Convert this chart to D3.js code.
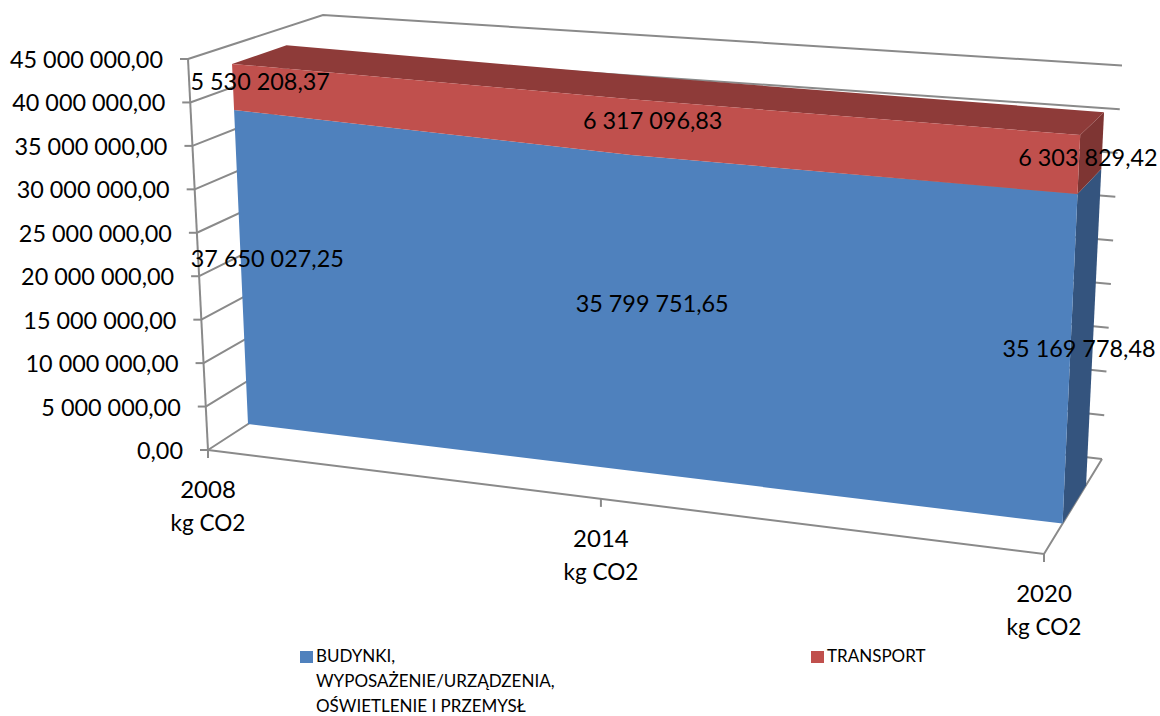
<!DOCTYPE html>
<html lang="pl"><head><meta charset="utf-8">
<script src="https://cdn.jsdelivr.net/npm/d3@7/dist/d3.min.js"></script>
<style>html,body{margin:0;padding:0;background:#fff}svg{display:block}text{font-family:Lato,"Open Sans",sans-serif;fill:#000}</style>
</head><body><svg id="c" width="1160" height="716"></svg>
<script>
const years = ["2008","2014","2020"];
const unit = "kg CO2";
const buildings = [37650027.25, 35799751.65, 35169778.48];
const transport = [5530208.37, 6317096.83, 6303829.42];
const buildingLabels = ["37 650 027,25","35 799 751,65","35 169 778,48"];
const transportLabels = ["5 530 208,37","6 317 096,83","6 303 829,42"];
const tickLabels = ["0,00","5 000 000,00","10 000 000,00","15 000 000,00","20 000 000,00","25 000 000,00","30 000 000,00","35 000 000,00","40 000 000,00","45 000 000,00"];
const legendBuildings = ["BUDYNKI,","WYPOSAŻENIE/URZĄDZENIA,","OŚWIETLENIE I PRZEMYSŁ"];
const legendTransport = ["TRANSPORT"];

// scales into the unit cube of the 3D plot
const xS = d3.scaleLinear().domain([0,1,2]).range([0,0.47,1]);
const yS = d3.scaleLinear().domain([0,45e6]).range([0,1]);
const yArea = d3.scaleLinear().domain([0,45e6]).range([0,0.99]);
const front = 0.32, back = 0.725;

// screen corners of the cube: [u][v][w]
const C = {
  "000":[208,450],"100":[1044,554],"001":[333,369],"101":[1102,459],
  "010":[188,59],"110":[1063,114.5],"011":[323,15],"111":[1122,65.5]
};
const CA = Object.assign({}, C, {"111":[1122,62]});
const L = d3.interpolateNumber;
function project(T,u,v,w){
  const f = k => {
    const c = s => T[s][k];
    const a = L(L(c("000"),c("100"))(u), L(c("010"),c("110"))(u))(v);
    const b = L(L(c("001"),c("101"))(u), L(c("011"),c("111"))(u))(v);
    return L(a,b)(w);
  };
  return [f(0),f(1)];
}
const P = (u,v,w) => project(C,u,v,w);
const A = (u,v,w) => project(CA,u,v,w);
const svg = d3.select("#c");
const line = d3.line();
const GRID = "#8a8a8a";
function fit(sel,ratio){
  const n = sel.node();
  sel.attr("textLength", n.getComputedTextLength()*ratio).attr("lengthAdjust","spacingAndGlyphs");
  return sel;
}

// gridlines on left and back walls
const g = svg.append("g").attr("fill","none").attr("stroke",GRID).attr("stroke-width",2);
yS.ticks(9).forEach(t=>{
  const v = yS(t);
  g.append("path").attr("d", line([P(0,v,0),P(0,v,1),P(1,v,1)]));
});
// floor + axes
g.append("path").attr("d", line([P(0,0,0),P(1,0,0),P(1,0,1)]));
g.append("path").attr("d", line([P(0,0,0),P(0,1,0)]));
yS.ticks(9).forEach(t=>{
  const p = P(0,yS(t),0);
  g.append("path").attr("d", line([[p[0]-8,p[1]],p]));
});
years.forEach((y,i)=>{
  const p = P(xS(i),0,0);
  g.append("path").attr("d", line([p,[p[0],p[1]+8]]));
});

// stacked surface
const idx = d3.range(years.length);
const top1 = i => buildings[i];
const top2 = i => buildings[i]+transport[i];
const poly = pts => line(pts)+"Z";
const last = idx[idx.length-1];
const s = svg.append("g").attr("stroke","none");
// right side faces
s.append("path").attr("fill","#34547e").attr("d", poly([A(1,0,front),A(1,0,back),A(1,yArea(top1(last)),back),A(1,yArea(top1(last)),front)]));
s.append("path").attr("fill","#7e3533").attr("d", poly([A(1,yArea(top1(last)),front),A(1,yArea(top1(last)),back),A(1,yArea(top2(last)),back),A(1,yArea(top2(last)),front)]));
// top face
s.append("path").attr("fill","#8e3b39").attr("d", poly([
  ...idx.map(i=>A(xS(i),yArea(top2(i)),front)),
  ...idx.slice().reverse().map(i=>A(xS(i),yArea(top2(i)),back))]));
// front faces
s.append("path").attr("fill","#4f81bd").attr("d", poly([
  ...idx.map(i=>A(xS(i),0,front)),
  ...idx.slice().reverse().map(i=>A(xS(i),yArea(top1(i)),front))]));
s.append("path").attr("fill","#c0504d").attr("d", poly([
  ...idx.map(i=>A(xS(i),yArea(top1(i)),front)),
  ...idx.slice().reverse().map(i=>A(xS(i),yArea(top2(i)),front))]));

// value axis labels
const FS = 24;
yS.ticks(9).forEach((t,i)=>{
  const p = P(0,yS(t),0);
  fit(svg.append("text").attr("x",p[0]-25).attr("y",p[1]+9).attr("text-anchor","end")
    .attr("font-size",FS).text(tickLabels[i]),0.975);
});
// data labels
idx.forEach(i=>{
  const dx = i===last ? -1.5 : (i===0 ? 3 : 4);
  const a = A(xS(i),yArea(top1(i)/2),0.5);
  fit(svg.append("text").attr("x",a[0]+dx).attr("y",a[1]+3+9).attr("text-anchor","middle").attr("font-size",FS).text(buildingLabels[i]),0.975);
  const b = A(xS(i),yArea(top1(i)+transport[i]/2),0.5);
  fit(svg.append("text").attr("x",b[0]+dx).attr("y",b[1]+3+9).attr("text-anchor","middle").attr("font-size",FS).text(transportLabels[i]),0.975);
});
// category labels
years.forEach((y,i)=>{
  const p = P(xS(i),0,0);
  svg.append("text").attr("text-anchor","middle").attr("font-size",FS).attr("x",p[0]).attr("y",p[1]+48).text(y);
  fit(svg.append("text").attr("text-anchor","middle").attr("font-size",FS).attr("x",p[0]).attr("y",p[1]+81).text(unit),0.94);
});
// legend
function legend(x,color,lines){
  svg.append("rect").attr("x",x).attr("y",651).attr("width",13).attr("height",12).attr("fill",color);
  lines.forEach((l,i)=>svg.append("text").attr("x",x+16).attr("y",662+i*25).attr("font-size",17).text(l));
}
legend(300,"#4f81bd",legendBuildings);
legend(811,"#c0504d",legendTransport);
</script></body></html>
